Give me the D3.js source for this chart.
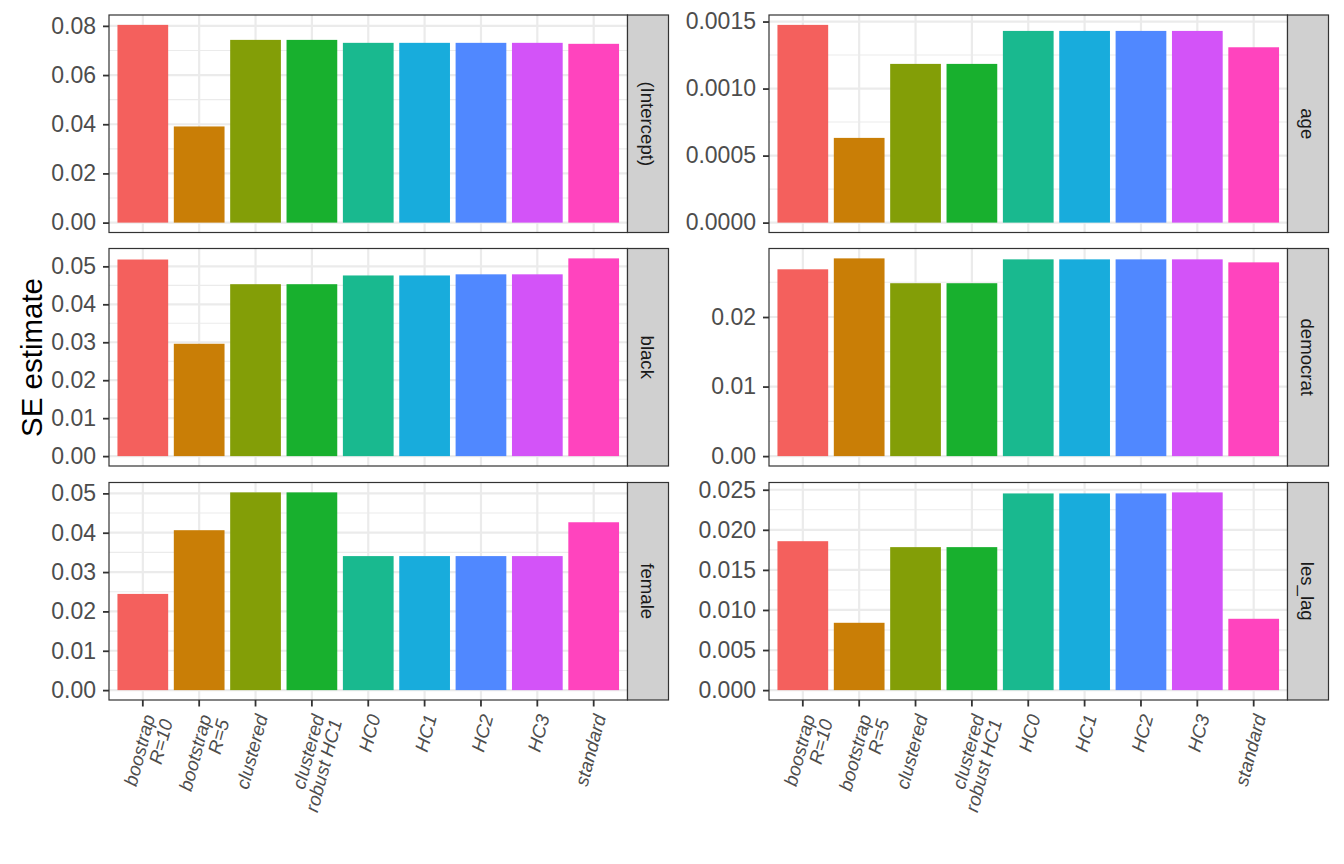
<!DOCTYPE html>
<html><head><meta charset="utf-8">
<script src="https://cdn.jsdelivr.net/npm/d3@7"></script>
<style>body{margin:0;background:#fff;} svg{display:block;}</style>
</head><body>
<svg id="chart" width="1344" height="864"></svg>
<script>
// ---------------- data ----------------
const terms = ["(Intercept)", "age", "black", "democrat", "female", "les_lag"];
const methods = ["boostrap\nR=10", "bootstrap\nR=5", "clustered", "clustered\nrobust HC1",
                 "HC0", "HC1", "HC2", "HC3", "standard"];
const seIntercept = [0.0804, 0.0391, 0.0743, 0.0743, 0.0731, 0.0731, 0.0731, 0.0731, 0.0727];
const seAge       = [0.001475, 0.000632, 0.001184, 0.001184, 0.00143, 0.00143, 0.00143, 0.00143, 0.001308];
const seBlack     = [0.0518, 0.0296, 0.0453, 0.0453, 0.0476, 0.0476, 0.0479, 0.0479, 0.0521];
const seDemocrat  = [0.02686, 0.02843, 0.02486, 0.02486, 0.02829, 0.02829, 0.02829, 0.02829, 0.02786];
const seFemale    = [0.02445, 0.04064, 0.05025, 0.05025, 0.03406, 0.03406, 0.03406, 0.03406, 0.04266];
const seLesLag    = [0.01858, 0.0084, 0.01784, 0.01784, 0.02454, 0.02454, 0.02454, 0.02467, 0.0089];

const ticksIntercept = [0, 0.02, 0.04, 0.06, 0.08];
const labelsIntercept = ["0.00", "0.02", "0.04", "0.06", "0.08"];
const ticksAge = [0, 0.0005, 0.0010, 0.0015];
const labelsAge = ["0.0000", "0.0005", "0.0010", "0.0015"];
const ticksBlack = [0, 0.01, 0.02, 0.03, 0.04, 0.05];
const labelsBlack = ["0.00", "0.01", "0.02", "0.03", "0.04", "0.05"];
const ticksDemocrat = [0, 0.01, 0.02];
const labelsDemocrat = ["0.00", "0.01", "0.02"];
const ticksFemale = [0, 0.01, 0.02, 0.03, 0.04, 0.05];
const labelsFemale = ["0.00", "0.01", "0.02", "0.03", "0.04", "0.05"];
const ticksLesLag = [0, 0.005, 0.010, 0.015, 0.020, 0.025];
const labelsLesLag = ["0.000", "0.005", "0.010", "0.015", "0.020", "0.025"];

const fillColors = ["#F4605D", "#C97E06", "#839E07", "#18B02E", "#19B98F", "#18ACDC", "#5088FF", "#D353F8", "#FF44BE"];
const yTitle = "SE estimate";

// ---------------- build ----------------
const panels = [
  {term: terms[0], vals: seIntercept, ticks: ticksIntercept, labels: labelsIntercept},
  {term: terms[1], vals: seAge, ticks: ticksAge, labels: labelsAge},
  {term: terms[2], vals: seBlack, ticks: ticksBlack, labels: labelsBlack},
  {term: terms[3], vals: seDemocrat, ticks: ticksDemocrat, labels: labelsDemocrat},
  {term: terms[4], vals: seFemale, ticks: ticksFemale, labels: labelsFemale},
  {term: terms[5], vals: seLesLag, ticks: ticksLesLag, labels: labelsLesLag}
];

const svg = d3.select("#chart");
const FONT = "'Liberation Sans', Arial, Helvetica, sans-serif";
const colX = [109, 769];
const panelW = 518.5;
const stripW = 41;
const rowY = [15, 248.5, 482.5];
const panelH = 217.5;
const color = d3.scaleOrdinal().domain(methods).range(fillColors);

panels.forEach((p, i) => {
  const col = i % 2, row = Math.floor(i / 2);
  const x0 = colX[col], y0 = rowY[row];
  const g = svg.append("g").attr("transform", `translate(${x0},${y0})`);
  const maxV = d3.max(p.vals);
  const y = d3.scaleLinear().domain([-0.05 * maxV, 1.05 * maxV]).range([panelH, 0]);
  const x = d3.scalePoint().domain(methods).range([0, panelW]).padding(0.6);
  const bw = x.step() * 0.9;

  g.append("rect").attr("width", panelW).attr("height", panelH).attr("fill", "#fff");

  // minor grid (midpoints between major breaks)
  const step = p.ticks[1] - p.ticks[0];
  const minor = [];
  for (let k = -1; k < p.ticks.length; k++) {
    const v = p.ticks[0] + (k + 0.5) * step;
    if (v > y.domain()[0] && v < y.domain()[1]) minor.push(v);
  }
  g.selectAll(".minor").data(minor).join("line")
    .attr("x1", 0).attr("x2", panelW)
    .attr("y1", d => y(d)).attr("y2", d => y(d))
    .attr("stroke", "#EBEBEB").attr("stroke-width", 1.1);
  g.selectAll(".major").data(p.ticks).join("line")
    .attr("x1", 0).attr("x2", panelW)
    .attr("y1", d => y(d)).attr("y2", d => y(d))
    .attr("stroke", "#EBEBEB").attr("stroke-width", 2.2);
  g.selectAll(".vgrid").data(methods).join("line")
    .attr("x1", d => x(d)).attr("x2", d => x(d))
    .attr("y1", 0).attr("y2", panelH)
    .attr("stroke", "#EBEBEB").attr("stroke-width", 2.2);

  // bars
  g.selectAll(".bar").data(methods.map((m, j) => ({m, v: p.vals[j]}))).join("rect")
    .attr("x", d => x(d.m) - bw / 2).attr("width", bw)
    .attr("y", d => y(d.v)).attr("height", d => y(0) - y(d.v))
    .attr("fill", d => color(d.m));

  // border
  g.append("rect").attr("width", panelW).attr("height", panelH)
    .attr("fill", "none").attr("stroke", "#333333").attr("stroke-width", 1.2);

  // strip
  g.append("rect").attr("x", panelW).attr("width", stripW).attr("height", panelH)
    .attr("fill", "#D0D0D0").attr("stroke", "#333333").attr("stroke-width", 1.2);
  g.append("text")
    .attr("transform", `translate(${panelW + stripW / 2},${panelH / 2}) rotate(90)`)
    .attr("text-anchor", "middle").attr("dy", "0.35em")
    .attr("font-family", FONT).attr("font-size", 18.6).attr("fill", "#1A1A1A")
    .text(p.term);

  // y axis
  const yAxis = d3.axisLeft(y).tickValues(p.ticks).tickSize(6).tickPadding(7)
    .tickFormat((d, k) => p.labels[k]);
  const ga = g.append("g").call(yAxis);
  ga.select(".domain").remove();
  ga.selectAll(".tick line").attr("stroke", "#333333").attr("stroke-width", 1.8);
  ga.selectAll(".tick text").attr("font-family", FONT).attr("font-size", 23).attr("fill", "#4D4D4D");

  // x axis (bottom row only)
  if (row === 2) {
    const gx = g.append("g").attr("transform", `translate(0,${panelH})`);
    gx.selectAll("line").data(methods).join("line")
      .attr("x1", d => x(d)).attr("x2", d => x(d)).attr("y1", 0).attr("y2", 6.5)
      .attr("stroke", "#333333").attr("stroke-width", 1.8);
    const fs = 18.8;
    const lab = gx.selectAll(".xl").data(methods).join("text")
      .attr("transform", d => `translate(${x(d) - 1},${13}) rotate(-75)`)
      .attr("text-anchor", "end")
      .attr("font-family", FONT).attr("font-size", fs).attr("font-style", "italic").attr("fill", "#4D4D4D");
    lab.each(function(d) {
      const lines = d.split("\n");
      d3.select(this).selectAll("tspan").data(lines).join("tspan")
        .attr("x", 0).attr("y", (l, k) => fs * 0.74 + k * fs * 0.98)
        .text(l => l);
    });
  }
});

// y title
svg.append("text")
  .attr("transform", `translate(42,${(rowY[0] + rowY[2] + panelH) / 2}) rotate(-90)`)
  .attr("text-anchor", "middle")
  .attr("font-family", FONT).attr("font-size", 29.5).attr("fill", "#000")
  .text(yTitle);
</script>
</body></html>
